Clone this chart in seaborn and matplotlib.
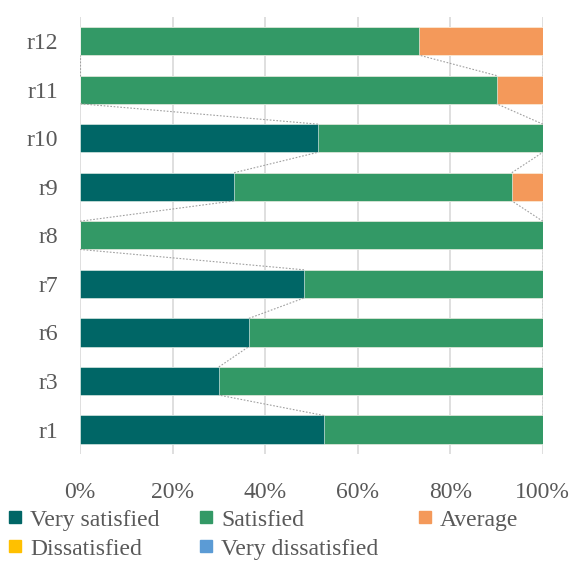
import numpy as np
import pandas as pd
import matplotlib
matplotlib.use("Agg")
import matplotlib.pyplot as plt
import seaborn as sns
from matplotlib.lines import Line2D

# data (shares in %), categories from bottom to top as in the chart
rows = ["r1", "r3", "r6", "r7", "r8", "r9", "r10", "r11", "r12"]
very_satisfied = [52.7, 30.0, 36.5, 48.4, 0.0, 33.3, 51.4, 0.0, 0.0]
satisfied = [47.3, 70.0, 63.5, 51.6, 100.0, 60.0, 48.6, 90.0, 73.3]
average = [0.0, 0.0, 0.0, 0.0, 0.0, 6.7, 0.0, 10.0, 26.7]
dissatisfied = [0.0, 0.0, 0.0, 0.0, 0.0, 0.0, 0.0, 0.0, 0.0]
very_dissatisfied = [0.0, 0.0, 0.0, 0.0, 0.0, 0.0, 0.0, 0.0, 0.0]

series_names = ["Very satisfied", "Satisfied", "Average", "Dissatisfied", "Very dissatisfied"]
colors = ["#006666", "#339966", "#F4995A", "#FFC000", "#5B9BD5"]

sns.set_theme(style="white")
plt.rcParams["font.family"] = ["Liberation Serif", "DejaVu Serif"]
text_col = "#595959"

df = pd.DataFrame({"row": rows, "Very satisfied": very_satisfied, "Satisfied": satisfied,
                   "Average": average, "Dissatisfied": dissatisfied,
                   "Very dissatisfied": very_dissatisfied})
cum = df[series_names].cumsum(axis=1)
order = rows[::-1]  # r12 at top

fig = plt.figure(figsize=(5.69, 5.61), dpi=100)
ax = fig.add_axes([0.1406, 0.191, 0.8134, 0.779])

bar_w = 0.58
# draw cumulative bars from the back so they look stacked
for name, col in zip(series_names[::-1], colors[::-1]):
    sns.barplot(data=cum.assign(row=df["row"]), x=name, y="row", order=order,
                color=col, width=bar_w, saturation=1, ax=ax,
                edgecolor="white", linewidth=0.4)

# series lines (dotted connectors between neighbouring bars)
pos = {r: i for i, r in enumerate(order)}
for name in series_names:
    vals = cum[name].values
    for i in range(len(rows) - 1):
        lo, hi = rows[i], rows[i + 1]
        ax.plot([vals[i], vals[i + 1]], [pos[lo] - bar_w / 2, pos[hi] + bar_w / 2],
                color="#A0A0A0", lw=0.8, ls=(0, (1.5, 1.5)), zorder=3)

ax.set_xlim(0, 100)
ax.set_ylim(len(rows) - 0.5, -0.5)
ax.set_xticks(np.arange(0, 101, 20))
ax.set_xticklabels([f"{v}%" for v in range(0, 101, 20)])
ax.xaxis.grid(True, color="#D9D9D9", lw=1.2)
ax.set_axisbelow(True)
for s in ax.spines.values():
    s.set_visible(False)
ax.set_xlabel("")
ax.set_ylabel("")
ax.tick_params(axis="x", length=0, pad=20, labelsize=17, labelcolor=text_col)
ax.tick_params(axis="y", length=0, pad=16, labelsize=17, labelcolor=text_col)

# legend filled row by row like the reference (matplotlib fills by column)
leg_idx = [0, 3, 1, 4, 2]
handles = [Line2D([], [], marker="s", ls="", color=colors[i], markersize=9) for i in leg_idx]
labels = [series_names[i] for i in leg_idx]
fig.legend(handles, labels, loc="upper left", ncol=3,
           bbox_to_anchor=(0.012, 1 - 509 / 561), frameon=False,
           fontsize=17, labelcolor=text_col, handlelength=0.7, handletextpad=0.3,
           labelspacing=0.32, columnspacing=1.6, borderpad=0, borderaxespad=0)

fig.savefig("out.png", dpi=100)
